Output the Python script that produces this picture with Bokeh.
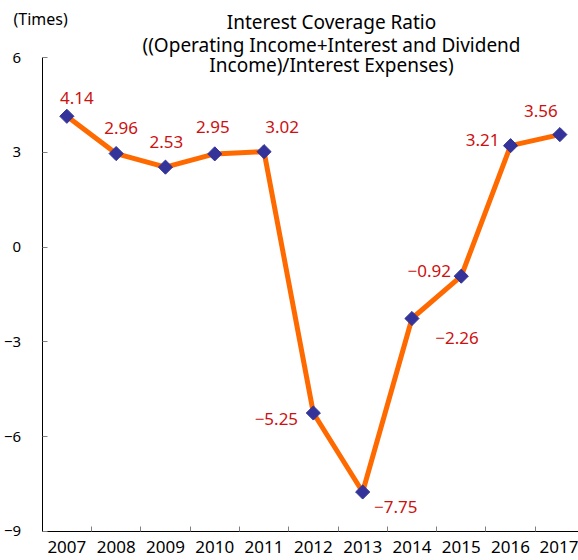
import numpy as np
from bokeh.plotting import figure
from bokeh.models import ColumnDataSource, FixedTicker, Label, Range1d
from bokeh.core.properties import value
from bokeh.embed import file_html
from bokeh.resources import INLINE

# ---- data ----
years = ["2007", "2008", "2009", "2010", "2011", "2012", "2013", "2014", "2015", "2016", "2017"]
ratio = [4.14, 2.96, 2.53, 2.95, 3.02, -5.25, -7.75, -2.26, -0.92, 3.21, 3.56]
y_ticks = [-9, -6, -3, 0, 3, 6]
title_lines = ["Interest Coverage Ratio",
               "((Operating Income+Interest and Dividend",
               "Income)/Interest Expenses)"]
unit_label = "(Times)"

# ---- label styling offsets (pixels) ----
label_dx = [10, 5, 1, -2, 18, -37, 33, 45, -32, -28, -19]
label_dy = [-18, -26, -25, -27, -25, 6, 15, 19, -5, -6, -24]

FONT = "Noto Sans"
xs = list(range(len(years)))
Y_MIN, Y_MAX = y_ticks[0], y_ticks[-1]
X_MIN, X_MAX = -0.5, len(years) - 0.5


def fmt(v):
    s = f"{v:.2f}"
    return s.replace("-", "\u2212")


src = ColumnDataSource(dict(
    x=xs, y=ratio, lab=[fmt(v) for v in ratio],
    dx=label_dx, dy=label_dy,
))

p = figure(width=578, height=560, output_backend="svg", toolbar_location=None,
           x_range=Range1d(-1.3458, 10.378), y_range=Range1d(-9.918, 7.804),
           min_border_left=0, min_border_right=0, min_border_top=0, min_border_bottom=0)
p.outline_line_color = None
p.xgrid.visible = False
p.ygrid.visible = False
p.background_fill_color = "white"
p.border_fill_color = "white"

# x axis (fixed at y = -9)
p.xaxis.fixed_location = Y_MIN
p.xaxis.bounds = (X_MIN, X_MAX + 1)
p.xaxis.ticker = FixedTicker(ticks=xs, minor_ticks=[i - 0.5 for i in range(len(years) + 1)])
p.xaxis.major_label_overrides = {i: y for i, y in enumerate(years)}
p.xaxis.major_tick_in = 0
p.xaxis.major_tick_out = 0
p.xaxis.minor_tick_in = 5
p.xaxis.minor_tick_out = 0
p.xaxis.minor_tick_line_color = "#808080"
p.xaxis.axis_line_color = "black"
p.xaxis.major_label_text_font = FONT
p.xaxis.major_label_text_font_size = "17px"
p.xaxis.major_label_text_color = "black"
p.xaxis.major_label_standoff = 10

# y axis (fixed at x = -0.5)
p.yaxis.fixed_location = X_MIN
p.yaxis.bounds = (Y_MIN, Y_MAX)
p.yaxis.ticker = FixedTicker(ticks=y_ticks, minor_ticks=[])
p.yaxis.major_label_overrides = {t: str(t).replace("-", "\u2212") for t in y_ticks}
p.yaxis.major_tick_in = 5
p.yaxis.major_tick_out = 0
p.yaxis.major_tick_line_color = "#808080"
p.yaxis.axis_line_color = "black"
p.yaxis.major_label_text_font = FONT
p.yaxis.major_label_text_font_size = "15px"
p.yaxis.major_label_text_color = "black"
p.yaxis.major_label_standoff = 21

# line + markers
p.line("x", "y", source=src, line_color="#FF6A00", line_width=5)
p.scatter("x", "y", source=src, marker="square", angle=np.pi / 4, size=10,
          fill_color="#333399", line_color="#333399")

# data labels
p.text("x", "y", text="lab", source=src, x_offset="dx", y_offset="dy",
       text_align="center", text_baseline="middle",
       text_font=value(FONT), text_font_size="17px", text_color="#CC1111")

# title lines
ty = [7.108, 6.411, 5.747]
for t, yy in zip(title_lines, ty):
    p.add_layout(Label(x=5.368, y=yy, text=t, text_align="center", text_baseline="middle",
                       text_font=FONT, text_font_size="19px", text_color="black"))

p.add_layout(Label(x=-1.082, y=7.218, text=unit_label, text_align="left", text_baseline="middle",
                   text_font=FONT, text_font_size="16px", text_color="black"))

open("out.html", "w").write(file_html(p, INLINE))
